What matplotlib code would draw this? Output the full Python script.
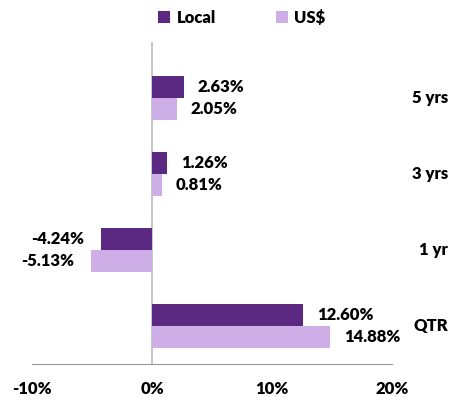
import numpy as np
import matplotlib.pyplot as plt
from matplotlib.transforms import blended_transform_factory

categories = ["QTR", "1 yr", "3 yrs", "5 yrs"]
local = [12.60, -4.24, 1.26, 2.63]
usd = [14.88, -5.13, 0.81, 2.05]
ticks = [-10, 0, 10, 20]

c_local = "#5b2882"
c_usd = "#cdaee6"

plt.rcParams['font.family'] = ['Lato', 'DejaVu Sans']
fw = 'heavy'
fs = 12

fig = plt.figure(figsize=(4.53, 4.0), dpi=100)
ax = fig.add_axes([0.071, 0.09, 0.794, 0.805])

y = np.arange(len(categories))
h = 0.29
ax.barh(y + h / 2, local, height=h, color=c_local, label="Local")
ax.barh(y - h / 2, usd, height=h, color=c_usd, label="US$")

ax.set_xlim(-10, 20)
ax.set_ylim(-0.5, 3.74)

# value labels
for yy, vals in [(y + h / 2, local), (y - h / 2, usd)]:
    for yi, v in zip(yy, vals):
        off = 10 if v >= 0 else -12
        ax.annotate(f"{v:.2f}%", (v, yi), xytext=(off, 0), textcoords="offset points",
                    ha="left" if v >= 0 else "right", va="center",
                    fontsize=fs, fontweight=fw)

# category labels on the right
tr = blended_transform_factory(fig.transFigure, ax.transData)
for yi, c in zip(y, categories):
    ax.text(448 / 453, yi, c, transform=tr, fontsize=fs, fontweight=fw,
            ha="right", va="center")

ax.axvline(0, color="#bbbbbb", lw=1.2, zorder=0)
ax.set_xticks(ticks)
ax.set_xticklabels([f"{t}%" for t in ticks], fontsize=fs, fontweight=fw)
ax.tick_params(axis="x", length=0, pad=12)
ax.set_yticks([])
for s in ["top", "right", "left"]:
    ax.spines[s].set_visible(False)
ax.spines["bottom"].set_color("#999999")

fig.legend(loc="center", bbox_to_anchor=(242 / 453, 1 - 18 / 400), ncol=2, frameon=False,
           prop={'size': fs, 'weight': fw}, handlelength=0.7, handleheight=0.7,
           columnspacing=3.6, handletextpad=0.4)

fig.savefig("out.png", dpi=100)
